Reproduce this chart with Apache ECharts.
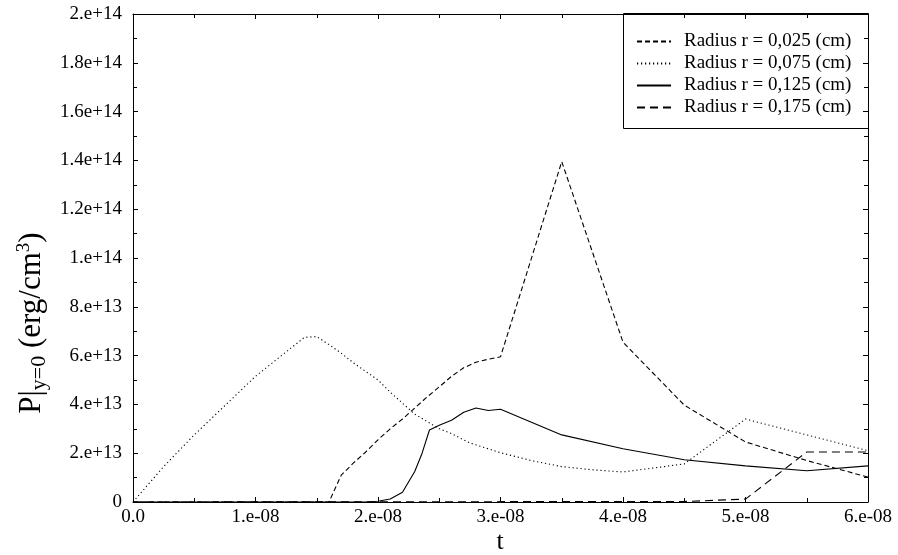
<!DOCTYPE html>
<html>
<head>
<meta charset="utf-8">
<script src="https://cdn.jsdelivr.net/npm/echarts@6/dist/echarts.min.js"></script>
<style>html,body{margin:0;padding:0;background:#fff}#c{width:898px;height:555px}</style>
</head>
<body>
<div id="c"></div>
<script>
// ---- data (t in s, P in erg/cm^3) ----
const seriesNames = ['Radius r = 0,025 (cm)', 'Radius r = 0,075 (cm)', 'Radius r = 0,125 (cm)', 'Radius r = 0,175 (cm)'];

const t025 = [0, 1.6e-8, 1.7e-8, 1.8e-8, 1.9e-8, 2.0e-8, 2.1e-8, 2.2e-8, 2.3e-8, 2.4e-8, 2.5e-8, 2.6e-8, 2.7e-8, 2.8e-8, 2.9e-8, 3.0e-8, 3.5e-8, 4.0e-8, 4.5e-8, 5.0e-8, 5.5e-8, 6.0e-8];
const p025 = [0, 0, 1.1e13, 1.6e13, 2.05e13, 2.55e13, 3.0e13, 3.4e13, 3.85e13, 4.3e13, 4.72e13, 5.15e13, 5.5e13, 5.73e13, 5.85e13, 5.95e13, 13.95e13, 6.55e13, 3.97e13, 2.46e13, 1.7e13, 1.02e13];

const t075 = [0, 0.25e-8, 0.5e-8, 0.75e-8, 1.0e-8, 1.25e-8, 1.4e-8, 1.5e-8, 1.6e-8, 1.7e-8, 1.8e-8, 1.9e-8, 2.0e-8, 2.1e-8, 2.2e-8, 2.3e-8, 2.4e-8, 2.5e-8, 2.6e-8, 2.75e-8, 3.0e-8, 3.25e-8, 3.5e-8, 3.75e-8, 4.0e-8, 4.5e-8, 5.0e-8, 5.5e-8, 6.0e-8];
const p075 = [0, 1.45e13, 2.75e13, 3.95e13, 5.15e13, 6.15e13, 6.75e13, 6.78e13, 6.45e13, 6.1e13, 5.7e13, 5.35e13, 5.0e13, 4.5e13, 4.05e13, 3.6e13, 3.3e13, 3.0e13, 2.8e13, 2.42e13, 2.02e13, 1.7e13, 1.45e13, 1.32e13, 1.23e13, 1.56e13, 3.4e13, 2.75e13, 2.1e13];

const t125 = [0, 1.9e-8, 2.0e-8, 2.1e-8, 2.2e-8, 2.3e-8, 2.36e-8, 2.42e-8, 2.5e-8, 2.6e-8, 2.7e-8, 2.8e-8, 2.9e-8, 3.0e-8, 3.5e-8, 4.0e-8, 4.5e-8, 5.0e-8, 5.5e-8, 6.0e-8];
const p125 = [0, 0, 0.03e13, 0.12e13, 0.4e13, 1.25e13, 2.0e13, 2.95e13, 3.15e13, 3.35e13, 3.68e13, 3.85e13, 3.75e13, 3.8e13, 2.75e13, 2.18e13, 1.73e13, 1.48e13, 1.28e13, 1.48e13];

const t175 = [0, 4.5e-8, 5.0e-8, 5.5e-8, 6.0e-8];
const p175 = [0, 0.02e13, 0.12e13, 2.05e13, 2.05e13];

const xTickLabels = ['0.0', '1.e-08', '2.e-08', '3.e-08', '4.e-08', '5.e-08', '6.e-08'];
const yTickLabels = ['0', '2.e+13', '4.e+13', '6.e+13', '8.e+13', '1.e+14', '1.2e+14', '1.4e+14', '1.6e+14', '1.8e+14', '2.e+14'];

// ---- chart ----
const FONT = 'Liberation Serif';
const zip = (xs, ys) => xs.map((x, i) => [x, ys[i]]);
const dashes = [[5, 3], [1.2, 2.8], 'solid', [8, 5]];
const seriesData = [zip(t025, p025), zip(t075, p075), zip(t125, p125), zip(t175, p175)];

const axisCommon = {
  axisLine: { show: true, onZero: false, lineStyle: { color: '#000', width: 1 } },
  axisTick: { show: true, inside: true, length: 5, lineStyle: { color: '#000' } },
  minorTick: { show: true, splitNumber: 2, length: 4, lineStyle: { color: '#000' } },
  splitLine: { show: false },
  minorSplitLine: { show: false }
};

const chart = echarts.init(document.getElementById('c'), null, { renderer: 'canvas' });
chart.setOption({
  backgroundColor: '#fff',
  animation: false,
  grid: { left: 133, right: 30, top: 14, bottom: 53, containLabel: false },
  xAxis: [
    Object.assign({
      type: 'value', min: 0, max: 6e-8, interval: 1e-8, position: 'bottom',
      axisLabel: { color: '#000', fontFamily: FONT, fontSize: 19, margin: 6,
        formatter: v => xTickLabels[Math.round(v / 1e-8)] }
    }, axisCommon),
    Object.assign({
      type: 'value', min: 0, max: 6e-8, interval: 1e-8, position: 'top',
      axisLabel: { show: false }
    }, axisCommon)
  ],
  yAxis: [
    Object.assign({
      type: 'value', min: 0, max: 2e14, interval: 2e13, position: 'left',
      axisLabel: { color: '#000', fontFamily: FONT, fontSize: 19, margin: 11,
        formatter: v => yTickLabels[Math.round(v / 2e13)] }
    }, axisCommon),
    Object.assign({
      type: 'value', min: 0, max: 2e14, interval: 2e13, position: 'right',
      axisLabel: { show: false }
    }, axisCommon)
  ],
  legend: {
    orient: 'vertical', left: 636, top: 32, padding: 0,
    itemWidth: 34, itemHeight: 10, itemGap: 3,
    itemStyle: { opacity: 0 },
    textStyle: { color: '#000', fontFamily: FONT, fontSize: 19, lineHeight: 19, padding: [0, 0, 0, 8] },
    data: seriesNames,
    selectedMode: false
  },
  graphic: [
    { type: 'rect', left: 623, top: 13, shape: { width: 245, height: 115 },
      style: { fill: '#fff', stroke: '#000', lineWidth: 1 }, z: 0 },
    { type: 'text', x: 500, y: 529,
      style: { text: 't', font: '26px "Liberation Serif"', fill: '#000', textAlign: 'center', textVerticalAlign: 'top' } },
    { type: 'text', x: 32, y: 323, rotation: Math.PI / 2,
      style: {
        text: '{a|P|}{s|y=0}{a| (erg/cm}{p|3}{a|)}',
        textAlign: 'center', textVerticalAlign: 'middle', fill: '#000',
        rich: {
          a: { fontFamily: FONT, fontSize: 31, fill: '#000' },
          s: { fontFamily: FONT, fontSize: 22, fill: '#000', padding: [14, 0, 0, 0] },
          p: { fontFamily: FONT, fontSize: 19, fill: '#000', padding: [0, 0, 16, 0] }
        }
      } }
  ],
  series: seriesNames.map((name, i) => ({
    name, type: 'line', data: seriesData[i], symbol: 'none', showSymbol: false,
    xAxisIndex: 0, yAxisIndex: 0,
    lineStyle: { color: '#000', width: 1.1, type: dashes[i] },
    itemStyle: { color: '#000' },
    z: 3
  }))
});
</script>
</body>
</html>
